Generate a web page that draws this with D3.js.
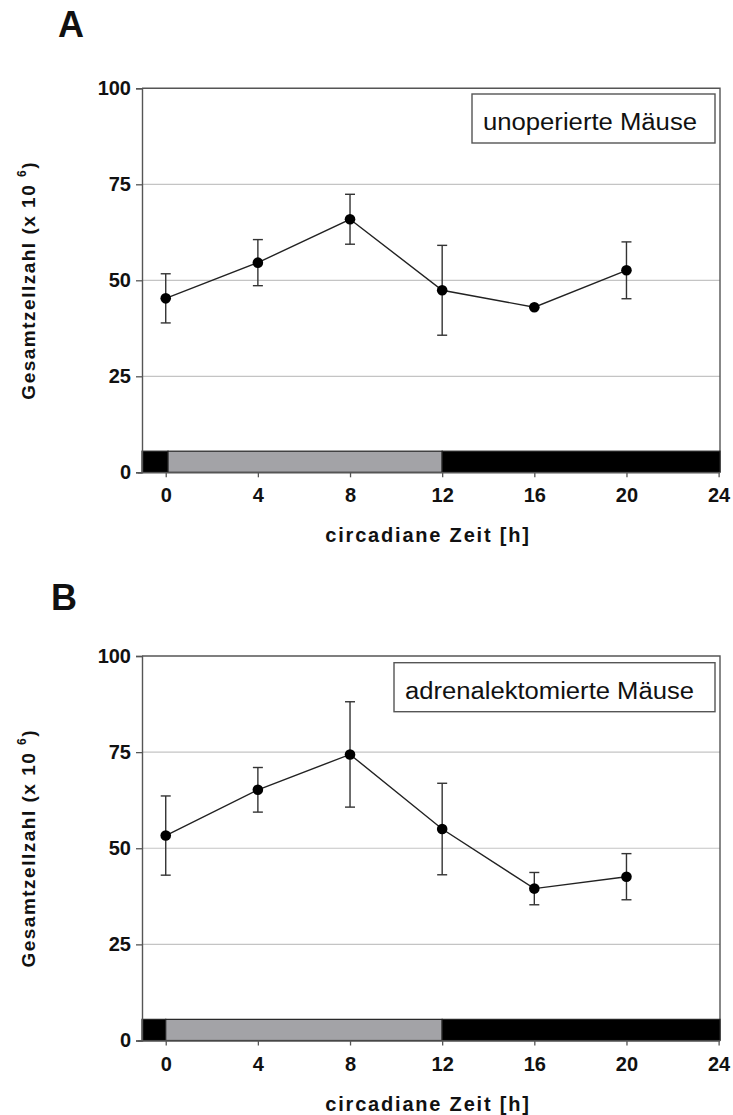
<!DOCTYPE html>
<html>
<head>
<meta charset="utf-8">
<script src="https://cdn.jsdelivr.net/npm/d3@7"></script>
<style>
  html, body { margin: 0; padding: 0; background: #fff; }
  svg { display: block; }
  text { font-family: "Liberation Sans", Arial, sans-serif; fill: #111; }
</style>
</head>
<body>
<svg id="chart" width="733" height="1115"></svg>
<script>
// ---- data ----
const hours = [0, 4, 8, 12, 16, 20];
const xTicks = [0, 4, 8, 12, 16, 20, 24];
const yTicks = [0, 25, 50, 75, 100];
const gridValues = [25, 50, 75];

const meanA = [45.3, 54.6, 65.9, 47.4, 43.0, 52.6];
const errA  = [6.4, 6.0, 6.5, 11.7, 0.8, 7.4];
const meanB = [53.3, 65.2, 74.4, 55.0, 39.5, 42.6];
const errB  = [10.3, 5.8, 13.7, 11.9, 4.2, 6.0];

// light/dark phases of the day bar
const phaseStartsA = [-1.03, 0.1, 12];
const phaseStartsB = [-1.03, 0.0, 12];
const phaseEndsA   = [0.1, 12, 24.06];
const phaseEndsB   = [0.0, 12, 24.06];
const phaseTypes   = ["dark", "light", "dark"];
const phaseTop = 5.5;

const panelLetters = ["A", "B"];
const legendLabels = ["unoperierte Mäuse", "adrenalektomierte Mäuse"];
const xLabel = "circadiane Zeit [h]";

const svg = d3.select("#chart");

function drawPanel(cfg) {
  const { top, bottom, left, right, mean, err, letter, letterPos, legend, legendBox, pStarts, pEnds } = cfg;
  const x = d3.scaleLinear().domain([-1.03, 24.06]).range([left, right]);
  const y = d3.scaleLinear().domain([0, 100]).range([bottom, top]);
  const g = svg.append("g");

  g.append("text").attr("x", letterPos[0]).attr("y", letterPos[1])
    .attr("font-size", 36).attr("font-weight", "bold").text(letter);

  g.selectAll(".grid").data(gridValues).enter().append("line")
    .attr("x1", left).attr("x2", right)
    .attr("y1", d => y(d)).attr("y2", d => y(d))
    .attr("stroke", "#c4c4c4").attr("stroke-width", 1.2);

  g.append("path")
    .attr("d", `M${left},${y(100)}H${right}V${y(0)}`)
    .attr("fill", "none").attr("stroke", "#555").attr("stroke-width", 1.4);

  const phases = pStarts.map((s, i) => ({ s, e: pEnds[i], t: phaseTypes[i] }));
  g.selectAll(".phase").data(phases).enter().append("rect")
    .attr("x", d => x(d.s)).attr("width", d => x(d.e) - x(d.s))
    .attr("y", y(phaseTop)).attr("height", y(0) - y(phaseTop))
    .attr("fill", d => d.t === "dark" ? "#000" : "#a3a3a7")
    .attr("stroke", "#222").attr("stroke-width", 1.2);

  g.append("rect").attr("x", legendBox[0]).attr("y", legendBox[1])
    .attr("width", legendBox[2]).attr("height", legendBox[3])
    .attr("fill", "#fff").attr("stroke", "#555").attr("stroke-width", 1.4);
  g.append("text").attr("x", legendBox[0] + 11).attr("y", legendBox[1] + 36)
    .attr("font-size", 23)
    .attr("textLength", legend.len).attr("lengthAdjust", "spacingAndGlyphs")
    .text(legend.text);

  const yAxis = d3.axisLeft(y).tickValues(yTicks).tickSize(6).tickPadding(5);
  const ya = g.append("g").attr("transform", `translate(${left},0)`).call(yAxis);
  const xAxis = d3.axisBottom(x).tickValues(xTicks).tickSize(5).tickPadding(11);
  const xa = g.append("g").attr("transform", `translate(0,${y(0)})`).call(xAxis);
  [ya, xa].forEach(a => {
    a.select(".domain").attr("stroke", "#555").attr("stroke-width", 1.4);
    a.selectAll(".tick line").attr("stroke", "#555").attr("stroke-width", 1.3);
    a.selectAll(".tick text").attr("font-size", 20).attr("font-weight", "bold")
      .attr("font-family", "'Liberation Sans', Arial, sans-serif").attr("fill", "#111");
  });
  xa.select(".domain").attr("d", `M${left - 4},0.5H${right}`);

  const yl = g.append("text")
    .attr("transform", `translate(35,${(top + bottom) / 2}) rotate(-90)`)
    .attr("text-anchor", "middle").attr("font-size", 19).attr("font-weight", "bold")
    .attr("letter-spacing", 1.5);
  yl.append("tspan").text("Gesamtzellzahl (x 10 ");
  yl.append("tspan").attr("font-size", 12).attr("dy", -9).text("6");
  yl.append("tspan").attr("dy", 9).text(")");

  g.append("text").attr("x", (left + right) / 2 - 3).attr("y", y(0) + 70)
    .attr("text-anchor", "middle").attr("font-size", 20).attr("font-weight", "bold")
    .attr("letter-spacing", 1.8).text(xLabel);

  const pts = hours.map((h, i) => ({ h, m: mean[i], e: err[i] }));
  const eb = g.append("g").attr("stroke", "#333").attr("stroke-width", 1.4);
  pts.filter(d => d.e > 1).forEach(d => {
    eb.append("line").attr("x1", x(d.h)).attr("x2", x(d.h))
      .attr("y1", y(d.m - d.e)).attr("y2", y(d.m + d.e));
    [d.m - d.e, d.m + d.e].forEach(v => {
      eb.append("line").attr("x1", x(d.h) - 5).attr("x2", x(d.h) + 5)
        .attr("y1", y(v)).attr("y2", y(v));
    });
  });
  g.append("path").datum(pts)
    .attr("d", d3.line().x(d => x(d.h)).y(d => y(d.m)))
    .attr("fill", "none").attr("stroke", "#222").attr("stroke-width", 1.4);
  g.selectAll(".pt").data(pts).enter().append("circle")
    .attr("cx", d => x(d.h)).attr("cy", d => y(d.m)).attr("r", 5.3)
    .attr("fill", "#000");
}

drawPanel({
  top: 88.3, bottom: 472.3, left: 142, right: 720,
  mean: meanA, err: errA, letter: panelLetters[0], letterPos: [58, 37],
  legend: { text: legendLabels[0], len: 214 }, legendBox: [472, 94, 243, 49],
  pStarts: phaseStartsA, pEnds: phaseEndsA
});
drawPanel({
  top: 656, bottom: 1040.5, left: 142, right: 720,
  mean: meanB, err: errB, letter: panelLetters[1], letterPos: [51, 610],
  legend: { text: legendLabels[1], len: 289 }, legendBox: [394, 662.7, 321, 49],
  pStarts: phaseStartsB, pEnds: phaseEndsB
});
</script>
</body>
</html>
